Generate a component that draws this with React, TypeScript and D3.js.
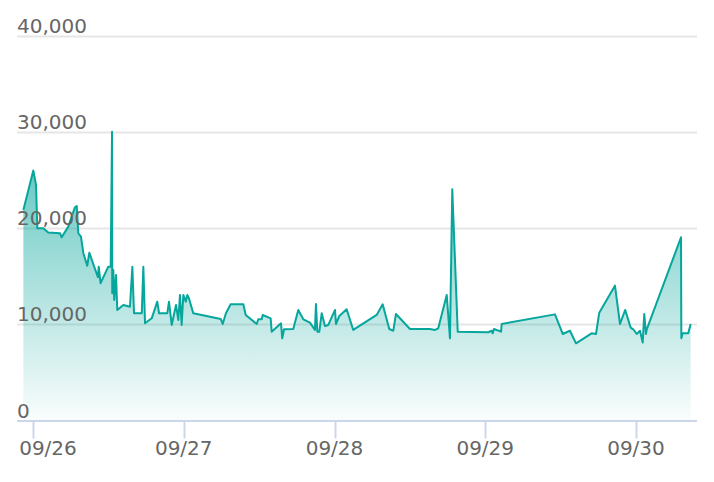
import React, { useEffect, useRef } from 'react';
import * as d3 from 'd3';

// readings, one time per value
const times = [
  '09-25 22:28', '09-26 00:03', '09-26 00:29', '09-26 00:41', '09-26 01:38', '09-26 02:26',
  '09-26 04:18', '09-26 04:34', '09-26 05:37', '09-26 06:41', '09-26 06:58', '09-26 07:13',
  '09-26 07:38', '09-26 08:01', '09-26 08:38', '09-26 08:58', '09-26 10:20', '09-26 10:28',
  '09-26 10:45', '09-26 11:59', '09-26 12:22', '09-26 12:35', '09-26 12:37', '09-26 12:47',
  '09-26 12:56', '09-26 13:13', '09-26 13:25', '09-26 14:23', '09-26 15:26', '09-26 15:49',
  '09-26 16:05', '09-26 17:19', '09-26 17:34', '09-26 17:50', '09-26 18:54', '09-26 19:47',
  '09-26 20:04', '09-26 21:23', '09-26 21:39', '09-26 22:05', '09-26 22:46', '09-26 23:08',
  '09-26 23:24', '09-26 23:40', '09-26 23:56', '09-27 00:19', '09-27 00:34', '09-27 00:50',
  '09-27 01:31', '09-27 04:11', '09-27 05:53', '09-27 06:12', '09-27 06:43', '09-27 07:28',
  '09-27 09:29', '09-27 09:52', '09-27 11:37', '09-27 11:52', '09-27 12:25', '09-27 12:34',
  '09-27 13:50', '09-27 14:00', '09-27 15:29', '09-27 15:41', '09-27 15:58', '09-27 17:26',
  '09-27 18:14', '09-27 19:02', '09-27 20:06', '09-27 20:53', '09-27 21:03', '09-27 21:16',
  '09-27 21:35', '09-27 21:58', '09-27 22:29', '09-27 23:01', '09-28 00:05', '09-28 00:14',
  '09-28 00:46', '09-28 01:56', '09-28 02:59', '09-28 06:43', '09-28 07:40', '09-28 08:43',
  '09-28 09:22', '09-28 09:47', '09-28 12:01', '09-28 15:12', '09-28 16:00', '09-28 16:31',
  '09-28 17:52', '09-28 18:23', '09-28 18:45', '09-28 19:37', '09-29 00:29', '09-29 01:01',
  '09-29 01:11', '09-29 01:23', '09-29 02:31', '09-29 02:37', '09-29 11:06', '09-29 12:20',
  '09-29 13:29', '09-29 14:27', '09-29 16:56', '09-29 17:38', '09-29 18:09', '09-29 20:39',
  '09-29 21:27', '09-29 22:17', '09-29 23:09', '09-29 23:34', '09-30 00:07', '09-30 00:38',
  '09-30 01:04', '09-30 01:19', '09-30 01:35', '09-30 01:42', '09-30 07:10', '09-30 07:13',
  '09-30 07:26', '09-30 08:19', '09-30 08:42',
];

const values = [
  21900, 26000, 24500, 20000, 20000, 19550,
  19480, 19060, 20170, 22190, 22320, 19480,
  19130, 17400, 16100, 17460, 14900, 16000,
  14280, 16000, 16000, 30050, 13240, 15660,
  12540, 15140, 11500, 12020, 11840, 16000,
  11160, 11160, 16000, 10110, 10630, 12360,
  11160, 11160, 12360, 9940, 12020, 10460,
  13060, 9940, 13060, 12360, 13060, 12700,
  11160, 10800, 10560, 10040, 11160, 12090,
  12090, 10980, 10040, 10530, 10530, 10980,
  10630, 9240, 10110, 8550, 9490, 9520,
  11500, 10530, 10180, 9420, 12120, 9240,
  9240, 11160, 9830, 9940, 11500, 10040,
  10870, 11570, 9420, 10980, 12090, 9520,
  9340, 11080, 9520, 9520, 9420, 9590,
  13060, 8550, 24060, 9240, 9180, 9340,
  9070, 9520, 9240, 10040, 11040, 9000,
  9340, 8030, 9070, 9000, 11220, 14030,
  10040, 11500, 9660, 9490, 9000, 9340,
  8100, 11080, 9000, 9450, 19060, 8550,
  9070, 9070, 10040,
];

const yTicks = [0, 10000, 20000, 30000, 40000];
const xTicks = ['09-26 00:00', '09-27 00:00', '09-28 00:00', '09-29 00:00', '09-30 00:00'];

const parse = d3.timeParse('%Y-%m-%d %H:%M');
const toDate = (s: string) => parse('2023-' + s)!;

const App: React.FC = () => {
  const svgRef = useRef<SVGSVGElement>(null);
  const width = 714;
  const height = 482;

  useEffect(() => {
    if (!svgRef.current) return;
    const svg = d3.select(svgRef.current);
    svg.selectAll('*').remove();

    const margin = { top: 36, right: 17, bottom: 62, left: 17 };
    const left = margin.left;
    const right = width - margin.right;
    const bottom = height - margin.bottom + 0.5;

    const data = times.map((t, i) => ({ date: toDate(t), value: values[i] }));

    // ticks sit a fixed distance from the plot edge, scale anchored on the day ticks
    const xScale = d3.scaleTime()
      .domain([toDate(xTicks[0]), toDate(xTicks[4])])
      .range([33, 636]);

    const yScale = d3.scaleLinear()
      .domain([0, 40000])
      .range([bottom, margin.top]);

    const font = 'DejaVu Sans, sans-serif';

    // gradient
    const defs = svg.append('defs');
    const grad = defs.append('linearGradient')
      .attr('id', 'areaFill')
      .attr('gradientUnits', 'userSpaceOnUse')
      .attr('x1', 0).attr('x2', 0)
      .attr('y1', yScale(d3.max(values) || 0))
      .attr('y2', bottom);
    grad.append('stop').attr('offset', 0).attr('stop-color', '#04a59b').attr('stop-opacity', 0.68);
    grad.append('stop').attr('offset', 1).attr('stop-color', '#04a59b').attr('stop-opacity', 0.02);

    // gridlines
    svg.append('g')
      .selectAll('line')
      .data(yTicks.filter(d => d > 0))
      .enter().append('line')
      .attr('x1', left)
      .attr('x2', right)
      .attr('y1', d => Math.round(yScale(d)) + 0.5)
      .attr('y2', d => Math.round(yScale(d)) + 0.5)
      .attr('stroke', '#e6e6e6')
      .attr('stroke-width', 2);

    // area + line
    const area = d3.area<any>()
      .x(d => xScale(d.date))
      .y0(bottom)
      .y1(d => yScale(d.value));

    const line = d3.line<any>()
      .x(d => xScale(d.date))
      .y(d => yScale(d.value));

    svg.append('path')
      .datum(data)
      .attr('fill', 'url(#areaFill)')
      .attr('d', area);

    svg.append('path')
      .datum(data)
      .attr('fill', 'none')
      .attr('stroke', '#06a69c')
      .attr('stroke-width', 2)
      .attr('stroke-linejoin', 'round')
      .attr('d', line);

    // y labels, left aligned above gridlines
    svg.append('g')
      .selectAll('text')
      .data(yTicks)
      .enter().append('text')
      .attr('x', left)
      .attr('y', d => yScale(d) - 3)
      .style('font-family', font)
      .style('font-size', '20px')
      .style('fill', '#666666')
      .text(d => d3.format(',')(d));

    // x axis line + ticks
    svg.append('line')
      .attr('x1', left)
      .attr('x2', right)
      .attr('y1', bottom + 0.5)
      .attr('y2', bottom + 0.5)
      .attr('stroke', '#ccd6eb')
      .attr('stroke-width', 2);

    const xt = svg.append('g');
    xTicks.forEach(t => {
      const x = Math.round(xScale(toDate(t))) + 0.5;
      xt.append('line')
        .attr('x1', x).attr('x2', x)
        .attr('y1', bottom)
        .attr('y2', bottom + 18)
        .attr('stroke', '#ccd6eb')
        .attr('stroke-width', 2);
      xt.append('text')
        .attr('x', Math.max(xScale(toDate(t)), left + 31))
        .attr('y', 455)
        .attr('text-anchor', 'middle')
        .style('font-family', font)
        .style('font-size', '20px')
        .style('fill', '#666666')
        .text(d3.timeFormat('%m/%d')(toDate(t)));
    });
  }, []);

  return (
    <svg
      ref={svgRef}
      width={width}
      height={height}
      style={{ position: 'absolute', left: 0, top: 0, background: '#ffffff' }}
    />
  );
};

export default App;
